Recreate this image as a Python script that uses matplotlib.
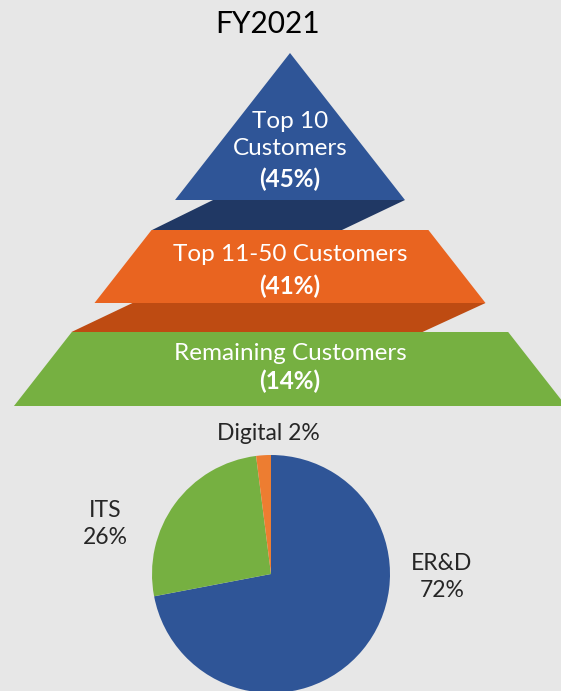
import matplotlib.pyplot as plt
from matplotlib.patches import Polygon

# pyramid tiers (top -> bottom)
tier_names = ["Top 10\nCustomers", "Top 11-50 Customers", "Remaining Customers"]
tier_shares = [45, 41, 14]
tier_colors = ["#2F5597", "#E96420", "#76B041"]
shadow_colors = ["#203864", "#BE4B12"]

# revenue split pie
seg_names = ["ER&D", "ITS", "Digital"]
seg_shares = [72, 26, 2]
seg_colors = ["#2F5597", "#76B041", "#ED7D31"]

W, H = 561, 691
bg = "#E7E7E7"
plt.rcParams['font.family'] = ['Lato', 'DejaVu Sans']

fig = plt.figure(figsize=(W / 100, H / 100), dpi=100, facecolor=bg)
ax = fig.add_axes([0, 0, 1, 1])
ax.set_facecolor(bg)


def Y(y):
    # picture rows measured top-down
    return H - y


# pyramid geometry: apex and slope of the sides
apex_x, apex_y = 290, 53
slope = 0.782
# (top, bottom) row of each face, and shadow band under the first two
faces = [(53, 200), (230, 303), (332, 406)]
shadows = [(200, 230), (303, 332)]
shift = 63


def half(y):
    return (y - apex_y) * slope


for i, (t, b) in enumerate(faces):
    pts = [(apex_x - half(t), Y(t)), (apex_x + half(t), Y(t)),
           (apex_x + half(b), Y(b)), (apex_x - half(b), Y(b))]
    ax.add_patch(Polygon(pts, closed=True, facecolor=tier_colors[i], edgecolor="none"))

for i, (t, b) in enumerate(shadows):
    ht = half(t)
    pts = [(apex_x - ht + 38, Y(t)), (apex_x + ht, Y(t)),
           (apex_x + ht - shift, Y(b)), (apex_x - ht - 23, Y(b))]
    ax.add_patch(Polygon(pts, closed=True, facecolor=shadow_colors[i], edgecolor="none"))

# tier labels
name_y = [135, 254, 353]
pct_y = [179, 286, 381]
for i in range(3):
    ax.text(apex_x, Y(name_y[i]), tier_names[i], color="white", fontsize=17.5,
            ha="center", va="center", linespacing=1.4)
    ax.text(apex_x, Y(pct_y[i]), f"({tier_shares[i]}%)", color="white", fontsize=17.5,
            fontweight="bold", ha="center", va="center")

ax.text(268, Y(24), "FY2021", fontsize=21.5, color="black", ha="center", va="center")

# pie
ax.pie(seg_shares, colors=seg_colors, startangle=90, counterclock=False,
       center=(271, Y(574)), radius=119, frame=True,
       wedgeprops=dict(linewidth=0))
ax.set_xlim(0, W)
ax.set_ylim(0, H)
ax.set_aspect("equal")
ax.axis("off")

label_pos = [(442, 577), (105, 524), (268, 433)]
for i, name in enumerate(seg_names):
    sep = " " if name == "Digital" else "\n"
    x, y = label_pos[i]
    ax.text(x, Y(y), f"{name}{sep}{seg_shares[i]}%", fontsize=16.5, color="#262626",
            ha="center", va="center", linespacing=1.35)

fig.savefig("out.png", dpi=100, facecolor=bg)
